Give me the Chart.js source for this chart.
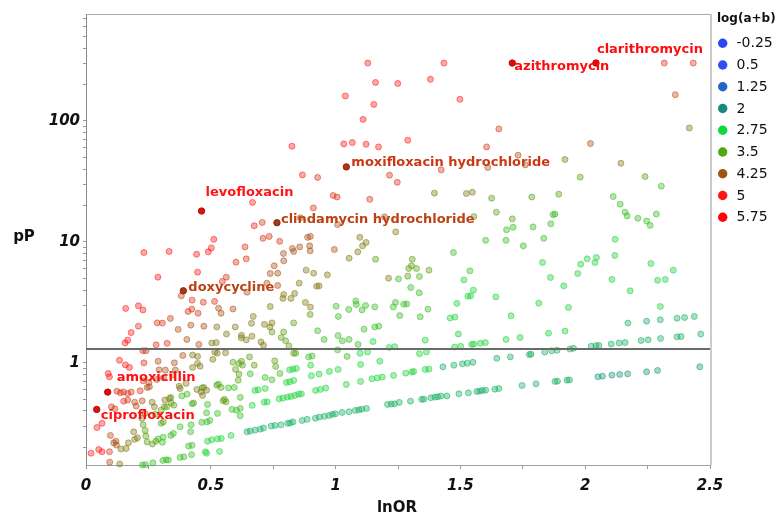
<!DOCTYPE html>
<html>
<head>
<meta charset="utf-8">
<script src="https://cdn.jsdelivr.net/npm/chart.js@4.4.1/dist/chart.umd.min.js"></script>
<style>
  html, body { margin: 0; padding: 0; background: #fff; }
  #wrap { width: 782px; height: 517px; }
</style>
</head>
<body>
<div id="wrap"><canvas id="volcano" width="782" height="517"></canvas></div>
<script>
// ---- data: [lnOR, pP] per drug, grouped by log(a+b) colour band ----
const redPts = [[1.129,301],[1.160,208],[1.249,204],[1.039,161],[1.153,137],[1.110,103],[0.825,61.8],[1.033,64.6],[1.067,66.3],[1.122,64.2],[1.172,61.0],[1.434,301],[1.380,221],[1.498,151],[1.289,69.2],[0.867,35.8],[0.667,21.2],[0.674,13.6],[0.512,10.5],[0.502,8.92],[0.490,8.27],[0.443,7.91],[0.232,8.17],[0.333,8.33],[0.288,5.11],[0.447,5.62],[0.159,2.82],[0.210,2.96],[0.228,2.74],[0.181,1.78],[0.167,1.54],[0.157,1.46],[0.134,1.05],[0.158,0.962],[0.174,0.916],[0.089,0.817],[0.094,0.766],[0.020,0.179],[0.051,0.192],[0.064,0.184],[0.044,0.292],[0.064,0.316]];
const salmonPts = [[1.654,85.9],[1.605,61.0],[1.423,39.4],[0.928,34.1],[0.990,24.2],[1.006,23.5],[0.911,19.1],[0.706,14.5],[0.637,9.09],[0.709,10.7],[0.734,11.1],[0.776,10.1],[1.137,22.5],[1.247,31.1],[1.216,35.6],[2.317,301],[2.433,301],[0.642,7.24],[0.601,6.80],[0.562,5.11],[0.546,4.71],[0.382,3.58],[0.425,3.30],[0.470,3.17],[0.515,3.22],[0.409,2.66],[0.424,2.78],[0.449,2.57],[0.338,2.33],[0.306,2.13],[0.285,2.14],[0.210,2.01],[0.281,1.41],[0.325,1.45],[0.228,1.26],[0.240,1.26],[0.232,1.00],[0.124,0.583],[0.138,0.565],[0.150,0.575],[0.167,0.558],[0.181,0.573],[0.217,0.587],[0.229,0.710],[0.151,0.482],[0.167,0.492],[0.094,0.184],[0.102,0.433],[0.116,0.417]];
const tanPts = [[1.731,52.1],[1.610,41.2],[1.760,43.3],[2.361,165],[2.021,65.0],[0.859,15.8],[0.888,10.9],[0.899,11.1],[0.995,8.65],[0.827,8.82],[0.856,9.09],[0.896,9.27],[0.898,8.43],[0.791,8.02],[0.832,8.33],[1.196,16.1],[1.008,13.9],[0.792,6.97],[0.754,6.34],[0.738,5.48],[0.768,5.51],[0.725,4.56],[0.768,4.36],[0.645,3.84],[0.589,2.79],[0.531,2.83],[0.541,2.57],[0.369,1.89],[0.420,2.05],[0.472,2.01],[0.404,1.56],[0.452,1.42],[0.289,1.03],[0.318,0.871],[0.354,1.00],[0.388,1.15],[0.245,0.626],[0.254,0.634],[0.252,0.689],[0.284,0.729],[0.310,0.751],[0.346,0.796],[0.358,0.871],[0.293,0.875],[0.225,0.485],[0.195,0.473],[0.201,0.439],[0.098,0.251],[0.111,0.218],[0.122,0.209],[0.120,0.225],[0.095,0.151]];
const khakiPts = [[2.417,87.5],[1.919,48.0],[2.143,44.7],[1.396,25.3],[1.524,25.1],[1.548,25.7],[1.097,10.9],[1.122,9.89],[1.108,9.27],[1.089,8.27],[1.054,7.33],[1.241,12.1],[0.882,5.84],[0.912,5.51],[0.967,5.34],[0.854,4.56],[0.924,4.30],[0.934,4.33],[0.792,3.67],[0.789,3.41],[0.821,3.41],[0.836,3.75],[0.879,3.16],[0.899,2.89],[0.738,2.92],[0.670,2.42],[0.663,2.12],[0.715,2.08],[0.737,1.98],[0.745,2.14],[1.212,5.01],[0.524,1.98],[0.598,1.98],[0.563,1.73],[0.623,1.69],[0.504,1.46],[0.522,1.47],[0.622,1.61],[0.642,1.55],[0.665,1.66],[0.701,1.49],[0.711,1.40],[0.427,1.16],[0.447,1.13],[0.516,1.23],[0.526,1.20],[0.559,1.21],[0.508,1.07],[0.447,0.989],[0.457,0.939],[0.427,0.916],[0.316,0.492],[0.334,0.508],[0.265,0.473],[0.274,0.433],[0.373,0.641],[0.377,0.614],[0.401,0.676],[0.444,0.603],[0.461,0.575],[0.472,0.626],[0.467,0.538],[0.483,0.594],[0.140,0.194],[0.161,0.196],[0.170,0.218],[0.195,0.233],[0.191,0.269],[0.206,0.240],[0.135,0.146],[0.224,0.347],[0.236,0.382]];
const olivePts = [[1.625,23.0],[1.786,23.5],[1.644,17.6],[1.708,15.5],[1.307,7.19],[1.554,16.2],[1.304,6.34],[1.324,6.03],[1.293,6.03],[1.374,5.84],[1.980,34.3],[2.240,34.7],[1.894,24.8],[1.160,7.19],[1.289,5.21],[0.898,2.51],[0.832,2.14],[0.745,1.80],[0.792,1.80],[0.782,1.62],[0.800,1.52],[0.813,1.38],[0.832,1.20],[0.840,1.20],[0.655,1.12],[0.674,0.957],[0.623,1.03],[0.756,1.04],[0.760,0.934],[0.589,1.01],[0.613,0.989],[0.627,0.957],[0.599,0.882],[0.613,0.807],[0.610,0.719],[0.524,0.654],[0.541,0.626],[0.431,0.465],[0.549,0.485],[0.555,0.499],[0.561,0.476],[0.237,0.276],[0.240,0.248],[0.229,0.307],[0.277,0.375],[0.245,0.222],[0.266,0.213],[0.280,0.225],[0.301,0.316],[0.310,0.325],[0.301,0.406],[0.314,0.433],[0.324,0.433],[0.341,0.467],[0.352,0.447],[0.340,0.518]];
const greenPts = [[1.685,12.6],[1.711,13.2],[1.791,13.3],[1.862,14.1],[1.871,16.8],[1.879,17.0],[1.834,10.7],[1.752,9.27],[1.683,10.3],[1.601,10.3],[1.472,8.17],[1.538,5.76],[1.252,4.94],[1.336,5.18],[1.301,4.20],[1.335,3.79],[1.240,3.16],[1.231,2.90],[1.273,3.05],[1.285,3.07],[1.257,2.46],[1.339,2.40],[1.370,2.78],[2.305,28.9],[2.112,23.7],[2.140,20.5],[2.160,17.6],[2.168,16.4],[2.211,15.7],[2.246,14.9],[2.260,13.7],[2.285,17.0],[0.928,1.84],[0.954,1.56],[1.010,1.68],[1.027,1.52],[1.054,1.56],[1.090,1.42],[1.114,1.90],[1.157,1.98],[1.173,2.01],[1.002,2.94],[1.011,2.42],[1.053,2.76],[1.081,3.25],[1.083,3.04],[1.106,2.74],[1.120,2.98],[1.157,2.90],[0.892,1.12],[0.906,1.14],[1.008,1.28],[1.046,1.13],[0.777,0.817],[0.658,0.811],[0.718,0.757],[0.745,0.724],[0.618,0.518],[0.618,0.420],[0.618,0.365],[0.289,0.235],[0.309,0.243],[0.306,0.220],[0.226,0.143],[0.238,0.144],[0.268,0.149],[0.308,0.156],[0.321,0.158],[0.330,0.157],[0.377,0.165],[0.392,0.167],[0.423,0.174],[0.340,0.251],[0.350,0.261],[0.384,0.533],[0.405,0.551],[0.425,0.458],[0.419,0.269],[0.421,0.307],[0.377,0.296],[0.411,0.205],[0.425,0.208],[0.464,0.322],[0.484,0.325],[0.496,0.334],[0.483,0.386],[0.487,0.453],[0.465,0.621],[0.531,0.667],[0.571,0.621],[0.594,0.626],[0.527,0.382],[0.585,0.412],[0.603,0.406]];
const lightPts = [[1.829,6.76],[2.120,10.5],[2.119,7.72],[2.008,7.24],[2.045,7.43],[1.982,6.54],[2.039,6.76],[2.263,6.63],[2.353,5.84],[1.970,5.48],[2.107,4.89],[2.180,3.94],[2.290,4.82],[2.321,4.89],[2.301,2.92],[1.514,4.85],[1.486,3.10],[1.459,2.35],[1.478,2.39],[1.530,3.56],[1.541,3.58],[1.552,3.99],[1.642,3.51],[1.861,5.08],[1.814,3.11],[1.914,4.33],[1.933,2.87],[1.703,2.45],[1.853,1.76],[1.919,1.83],[1.359,1.54],[1.492,1.73],[1.683,1.56],[1.739,1.62],[1.477,1.35],[1.501,1.37],[1.545,1.42],[1.554,1.43],[1.580,1.45],[1.600,1.47],[1.336,1.19],[1.364,1.23],[1.281,0.822],[1.305,0.838],[1.313,0.849],[1.359,0.882],[1.374,0.887],[1.150,1.50],[1.098,1.20],[1.128,1.23],[1.215,1.34],[1.237,1.36],[0.816,0.875],[0.829,0.887],[0.843,0.899],[0.900,0.957],[0.903,0.781],[0.934,0.807],[0.975,0.849],[1.010,0.882],[1.100,0.970],[1.177,1.03],[0.803,0.689],[0.816,0.697],[0.832,0.716],[1.043,0.663],[1.100,0.702],[1.146,0.738],[1.167,0.751],[1.187,0.762],[1.232,0.787],[0.677,0.592],[0.690,0.598],[0.718,0.614],[0.666,0.445],[0.714,0.473],[0.726,0.476],[0.774,0.504],[0.789,0.511],[0.807,0.521],[0.821,0.528],[0.837,0.538],[0.852,0.551],[0.863,0.554],[0.920,0.592],[0.939,0.603],[0.960,0.618],[0.478,0.184],[0.483,0.179],[0.535,0.185],[0.487,0.225],[0.504,0.231],[0.527,0.235],[0.542,0.237],[0.581,0.251]];
const tealPts = [[0.645,0.269],[0.658,0.273],[0.678,0.278],[0.698,0.283],[0.711,0.289],[0.742,0.300],[0.758,0.304],[0.781,0.307],[0.808,0.316],[0.818,0.318],[0.829,0.325],[0.866,0.334],[0.886,0.341],[0.919,0.349],[0.935,0.356],[0.955,0.361],[0.974,0.367],[0.987,0.375],[0.999,0.379],[1.026,0.389],[1.054,0.394],[1.079,0.404],[1.093,0.409],[1.105,0.414],[1.124,0.420],[1.208,0.453],[1.223,0.456],[1.236,0.458],[1.255,0.471],[1.300,0.482],[1.345,0.499],[1.354,0.501],[1.382,0.514],[1.398,0.521],[1.409,0.524],[1.422,0.531],[1.446,0.533],[1.494,0.554],[1.532,0.565],[1.566,0.580],[1.577,0.583],[1.588,0.592],[1.601,0.594],[1.638,0.606],[1.654,0.614],[1.747,0.650],[1.803,0.670],[1.879,0.702],[1.889,0.706],[1.927,0.719],[1.937,0.723],[1.430,0.927],[1.474,0.957],[1.508,0.981],[1.528,0.994],[1.550,1.01],[1.646,1.09],[1.700,1.12],[1.776,1.17],[1.783,1.18],[1.838,1.23],[1.866,1.26],[1.887,1.27],[1.939,1.30],[1.953,1.32],[2.024,1.37],[2.043,1.39],[2.055,1.39],[2.104,1.43],[2.136,1.46],[2.160,1.47],[2.224,1.53],[2.252,1.55],[2.302,1.59],[2.368,1.64],[2.384,1.65],[2.463,1.73],[2.171,2.13],[2.246,2.21],[2.301,2.27],[2.368,2.34],[2.398,2.37],[2.437,2.42]];
const bluePts = [[2.051,0.766],[2.069,0.776],[2.107,0.791],[2.138,0.802],[2.170,0.811],[2.246,0.843],[2.290,0.865],[2.459,0.927]];

// log(a+b) value of each colour band above
const groupPoints = [redPts, salmonPts, tanPts, khakiPts, olivePts, greenPts, lightPts, tealPts, bluePts];
const groupLevels = [5.0, 4.7, 4.35, 3.95, 3.6, 3.2, 2.85, 2.35, 2.1];

// highlighted drugs
const drugNames = ['levofloxacin', 'moxifloxacin hydrochloride', 'clindamycin hydrochloride', 'doxycycline', 'amoxicillin', 'ciprofloxacin', 'azithromycin', 'clarithromycin'];
const drugLnOR = [0.463, 1.043, 0.765, 0.390, 0.087, 0.043, 1.708, 2.043];
const drugPP = [18.0, 41.7, 14.4, 3.94, 0.573, 0.412, 301, 301];
const drugLogAB = [5.0, 4.6, 4.5, 4.5, 5.3, 5.2, 5.4, 5.4];

// colour legend
const legendValues = ['-0.25', '0.5', '1.25', '2', '2.75', '3.5', '4.25', '5', '5.75'];
const legendColors = ['#2b45f5', '#2f4ff0', '#2266cc', '#178a80', '#0ed83a', '#4ea80e', '#9e5510', '#ff1515', '#ff0505'];

// axes
const xTickValues = [0, 0.25, 0.5, 0.75, 1, 1.25, 1.5, 1.75, 2, 2.25, 2.5];
const xTickLabels = [0, 0.5, 1, 1.5, 2, 2.5];
const yTickValues = [0.2, 0.3, 0.4, 0.5, 0.6, 0.7, 0.8, 0.9, 1, 2, 3, 4, 5, 6, 7, 8, 9, 10, 20, 30, 40, 50, 60, 70, 80, 90, 100, 200, 300, 400, 500, 600, 700];
const yTickLabels = [1, 10, 100];
const yMin = 0.143;
const yMax = 766;
const sigLevel = 1.3;

// label placement next to each highlighted point (pixels)
const labelOffsets = [[4, -18], [5, -4], [4, -3], [5, -3], [9, -14], [4, 6], [2, 4], [1, -13]];

// ---- colour helpers ----
function hexRgb(h) {
  const n = parseInt(h.slice(1), 16);
  return [(n >> 16) & 255, (n >> 8) & 255, n & 255];
}
function levelRgb(v) {
  const stops = legendValues.map(Number);
  if (v <= stops[0]) return hexRgb(legendColors[0]);
  for (let i = 1; i < stops.length; i++) {
    if (v <= stops[i]) {
      const t = (v - stops[i - 1]) / (stops[i] - stops[i - 1]);
      const a = hexRgb(legendColors[i - 1]), b = hexRgb(legendColors[i]);
      return a.map((c, k) => c + (b[k] - c) * t);
    }
  }
  return hexRgb(legendColors[legendColors.length - 1]);
}
function rgba(rgb, a) {
  return 'rgba(' + rgb.map(Math.round).join(',') + ',' + a + ')';
}

const FONT = '"DejaVu Sans", Verdana, sans-serif';
Chart.defaults.font.family = FONT;

// highlighted points on top (dataset 0 is drawn last)
const datasets = [{
  data: drugLnOR.map((x, i) => ({ x: x, y: drugPP[i] })),
  pointRadius: 3.2,
  pointBorderWidth: 1,
  backgroundColor: drugLogAB.map(v => rgba(levelRgb(v).map(c => c * 0.88), 1)),
  borderColor: drugLogAB.map(v => rgba(levelRgb(v).map(c => c * 0.7), 1)),
  clip: false
}];
groupPoints.forEach((pts, g) => {
  const rgb = levelRgb(groupLevels[g]);
  datasets.push({
    data: pts.map(p => ({ x: p[0], y: p[1] })),
    pointRadius: 3,
    pointBorderWidth: 1,
    backgroundColor: rgba(rgb, 0.38),
    borderColor: rgba(rgb, 0.52),
    clip: false
  });
});

// threshold line, labels, frame, titles, legend
const overlay = {
  id: 'overlay',
  afterDatasetsDraw(chart) {
    const { ctx, chartArea: a, scales: { x, y } } = chart;
    ctx.save();

    ctx.strokeStyle = '#a8a8a8';
    ctx.lineWidth = 1;
    ctx.beginPath();
    ctx.moveTo(a.left, a.top + 0.5);
    ctx.lineTo(a.right, a.top + 0.5);
    ctx.stroke();
    ctx.strokeStyle = '#cccccc';
    ctx.lineWidth = 2;
    ctx.beginPath();
    ctx.moveTo(a.right + 1, a.top);
    ctx.lineTo(a.right + 1, a.bottom);
    ctx.stroke();

    const yl = Math.round(y.getPixelForValue(sigLevel));
    ctx.strokeStyle = '#6a6a6a';
    ctx.lineWidth = 2;
    ctx.beginPath();
    ctx.moveTo(a.left, yl);
    ctx.lineTo(a.right, yl);
    ctx.stroke();

    ctx.font = 'bold 13px ' + FONT;
    ctx.textAlign = 'left';
    ctx.textBaseline = 'middle';
    drugNames.forEach((name, i) => {
      const px = x.getPixelForValue(drugLnOR[i]);
      const py = y.getPixelForValue(drugPP[i]);
      ctx.fillStyle = rgba(levelRgb(drugLogAB[i]), 1);
      ctx.fillText(name, px + labelOffsets[i][0], py + labelOffsets[i][1]);
    });

    ctx.fillStyle = '#111';
    ctx.font = 'bold 15px ' + FONT;
    ctx.textAlign = 'center';
    ctx.fillText('pP', 24, 237);
    ctx.fillText('lnOR', 397, 508);

    ctx.textAlign = 'left';
    ctx.font = 'bold 12px ' + FONT;
    ctx.fillText('log(a+b)', 717, 19);
    ctx.font = '14px ' + FONT;
    legendValues.forEach((v, i) => {
      const ly = 43.3 + i * 21.75;
      ctx.fillStyle = legendColors[i];
      ctx.beginPath();
      ctx.arc(722.7, ly, 4.7, 0, Math.PI * 2);
      ctx.fill();
      ctx.fillStyle = '#111';
      ctx.fillText(v, 736.5, ly + 0.5);
    });

    ctx.restore();
  }
};

const tickFont = { family: FONT, size: 15, weight: 'bold', style: 'italic' };

new Chart(document.getElementById('volcano').getContext('2d'), {
  type: 'scatter',
  data: { datasets: datasets },
  options: {
    responsive: false,
    animation: false,
    devicePixelRatio: 1,
    layout: { padding: { top: 14, right: 72, bottom: 0, left: 0 } },
    plugins: {
      legend: { display: false },
      tooltip: { enabled: false }
    },
    scales: {
      x: {
        type: 'linear',
        min: 0,
        max: 2.5,
        afterBuildTicks: (s) => { s.ticks = xTickValues.map(v => ({ value: v })); },
        afterFit: (s) => { s.height = 52; },
        ticks: {
          autoSkip: false,
          maxRotation: 0,
          padding: 8,
          color: '#111',
          font: tickFont,
          callback: (v) => xTickLabels.includes(v) ? String(v) : ''
        },
        grid: { drawOnChartArea: false, tickLength: 4, color: '#9a9a9a' },
        border: { color: '#a0a0a0', width: 1 }
      },
      y: {
        type: 'logarithmic',
        min: yMin,
        max: yMax,
        afterBuildTicks: (s) => { s.ticks = yTickValues.map(v => ({ value: v })); },
        afterFit: (s) => { s.width = 86; },
        ticks: {
          autoSkip: false,
          padding: 3,
          color: '#111',
          font: tickFont,
          callback: (v) => yTickLabels.includes(v) ? String(v) : ''
        },
        grid: { drawOnChartArea: false, tickLength: 3, color: '#9a9a9a' },
        border: { color: '#8c8c8c', width: 1 }
      }
    }
  },
  plugins: [overlay]
});
</script>
</body>
</html>
